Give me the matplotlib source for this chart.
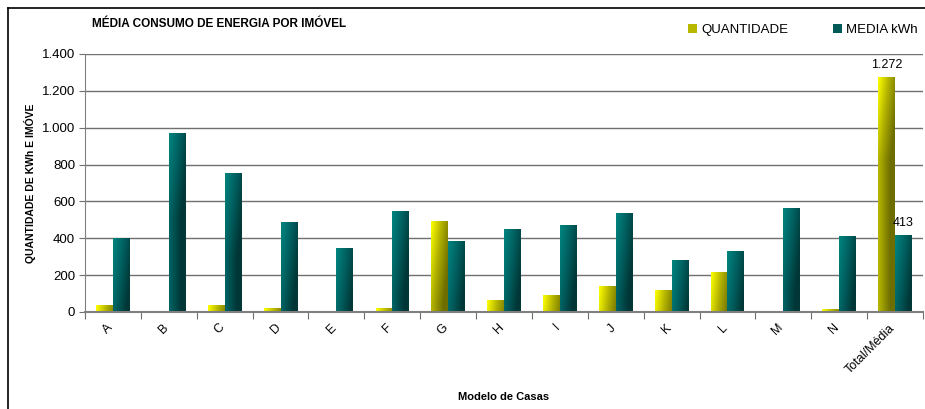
import numpy as np
import matplotlib
matplotlib.use('Agg')
import matplotlib.pyplot as plt
from matplotlib.colors import LinearSegmentedColormap
from matplotlib.patches import Patch
from matplotlib.lines import Line2D
from matplotlib.ticker import FuncFormatter
from matplotlib.transforms import ScaledTranslation

plt.rcParams['font.family'] = ['Liberation Sans', 'DejaVu Sans']

# dados
modelos = ['A', 'B', 'C', 'D', 'E', 'F', 'G', 'H', 'I', 'J', 'K', 'L', 'M', 'N', 'Total/Média']
quantidade = [36, 3, 36, 20, 3, 20, 490, 65, 92, 141, 119, 213, 3, 15, 1272]
media_kwh = [400, 968, 752, 485, 346, 546, 384, 445, 472, 537, 282, 331, 564, 407, 413]

cmap_q = LinearSegmentedColormap.from_list('q', ['#FFFF00', '#B0B000', '#6E6E00'])
cmap_m = LinearSegmentedColormap.from_list('m', ['#008580', '#006060', '#003636'])


def barra_gradiente(ax, x0, w, h, cmap):
    # preenchimento com degradê (esquerda clara -> direita escura, topo -> base)
    if h <= 0:
        return
    xs = np.linspace(0, 1, 32)
    depth = np.linspace(0, h, 64)
    g = 0.75 * xs[None, :] + 0.45 * np.clip(depth[:, None] / 450.0, 0, 1)
    ax.imshow(np.clip(g, 0, 1), extent=[x0, x0 + w, 0, h], aspect='auto', cmap=cmap,
              vmin=0, vmax=1, zorder=2, interpolation='bilinear')


fig = plt.figure(figsize=(9.25, 4.09), dpi=100)
ax = fig.add_axes([85 / 925, 1 - 312 / 409, 838 / 925, 258 / 409])

x = np.arange(len(modelos))
w = 0.3
for i in range(len(modelos)):
    barra_gradiente(ax, x[i] - w, w, max(quantidade[i], 5), cmap_q)
    barra_gradiente(ax, x[i], w, media_kwh[i], cmap_m)

ax.set_xlim(-0.5, len(modelos) - 0.5)
ax.set_ylim(0, 1400)
ax.set_yticks(np.arange(0, 1401, 200))
ax.yaxis.set_major_formatter(FuncFormatter(lambda v, p: f'{int(v):,}'.replace(',', '.')))
ax.grid(axis='y', color='#707070', linewidth=1)
ax.set_axisbelow(True)

# marcas entre categorias, rótulos no centro
ax.set_xticks(np.arange(len(modelos) + 1) - 0.5)
ax.set_xticklabels([])
ax.set_xticks(x, minor=True)
ax.set_xticklabels(modelos, minor=True, rotation=45, ha='right', va='top',
                   rotation_mode='anchor', fontsize=9)
ax.tick_params(axis='x', which='minor', length=0, pad=7)
ax.tick_params(axis='x', which='major', length=5, color='#707070')
ax.tick_params(axis='y', length=4, color='#707070', labelsize=9.5, pad=3)
desloc = ScaledTranslation(-6 / 100, 0, fig.dpi_scale_trans)
for lbl in ax.get_xticklabels(minor=True):
    lbl.set_transform(lbl.get_transform() + desloc)

for s in ['top', 'right']:
    ax.spines[s].set_visible(False)
ax.spines['left'].set_color('#808080')
ax.spines['bottom'].set_color('#808080')
ax.spines['bottom'].set_linewidth(1.5)

ax.set_ylabel('QUANTIDADE DE KWh E IMÓVE', fontsize=7.5, fontweight='bold')
ax.yaxis.set_label_coords(-0.058, 0.5)
ax.set_xlabel('Modelo de Casas', fontsize=8, fontweight='bold')
ax.xaxis.set_label_coords(0.5, -0.31)

# rótulos de dados do total
n = len(modelos) - 1
ax.text(x[n] - w / 2, quantidade[n] + 35, f'{quantidade[n]:,}'.replace(',', '.'),
        ha='center', va='bottom', fontsize=9)
ax.text(x[n] + w / 2, media_kwh[n] + 35, str(media_kwh[n]),
        ha='center', va='bottom', fontsize=9)

fig.text(92 / 925, 1 - 24 / 409, 'MÉDIA CONSUMO DE ENERGIA POR IMÓVEL',
         fontsize=8.5, fontweight='bold', va='center')

handles = [Patch(facecolor='#B8B800', edgecolor='none'),
           Patch(facecolor='#005A58', edgecolor='none')]
fig.legend(handles, ['QUANTIDADE', 'MEDIA kWh'], loc='center left',
           bbox_to_anchor=(676 / 925, 1 - 30 / 409), ncol=2, frameon=False,
           fontsize=9.5, handlelength=0.7, handleheight=0.7, handletextpad=0.3,
           columnspacing=3.4)

# moldura do gráfico
fig.add_artist(Line2D([8 / 925, 1], [1 - 8 / 409] * 2, color='black', linewidth=1.2))
fig.add_artist(Line2D([8 / 925] * 2, [0, 1 - 8 / 409], color='black', linewidth=1.2))

fig.savefig('out.png', dpi=100)
